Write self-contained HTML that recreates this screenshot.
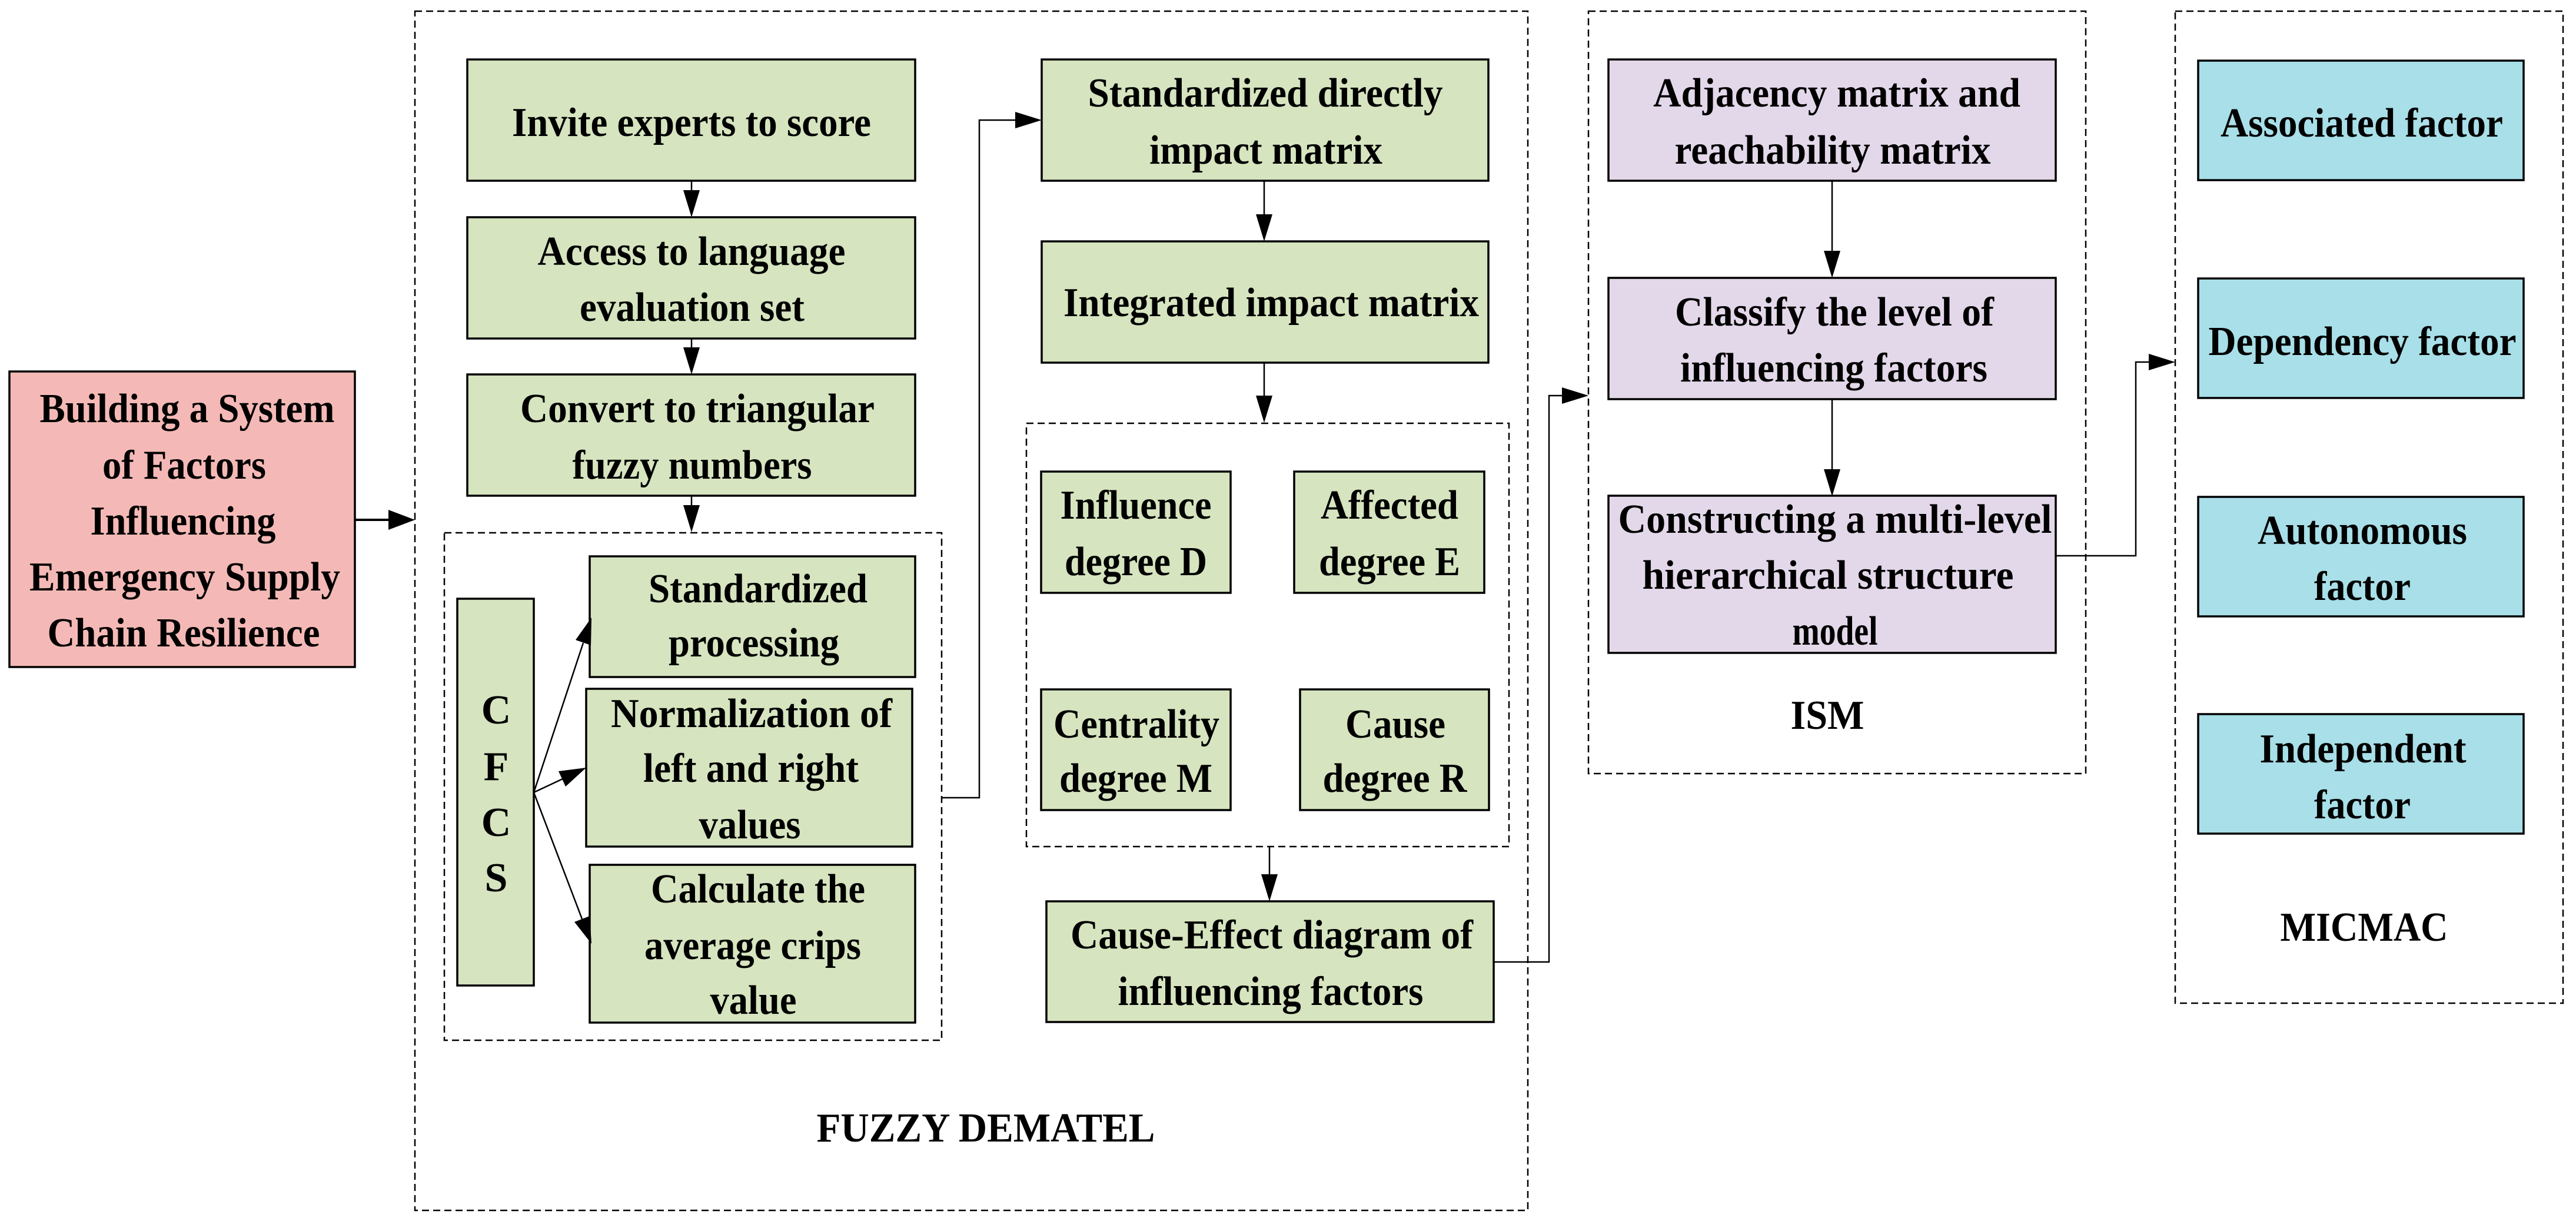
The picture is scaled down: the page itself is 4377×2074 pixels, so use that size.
<!DOCTYPE html>
<html><head><meta charset="utf-8"><style>
html,body{margin:0;padding:0;background:#fff;}
svg{display:block;}
text{font-family:"Liberation Serif",serif;font-weight:bold;font-size:70px;fill:#000;}
</style></head><body>
<svg width="4377" height="2074" viewBox="0 0 4377 2074" xmlns="http://www.w3.org/2000/svg">
<g fill="none" stroke="#000" stroke-width="2.5" stroke-dasharray="12,7">
<rect x="705" y="19" width="1891" height="2037"/>
<rect x="755" y="905" width="845" height="862"/>
<rect x="1744" y="719" width="820" height="719"/>
<rect x="2699" y="19" width="845" height="1295"/>
<rect x="3696" y="19" width="659" height="1685"/>
</g>
<g stroke="#000" stroke-width="3.5">
<rect x="16" y="631" width="587" height="502" fill="#f4b9b6"/>
<g fill="#d6e4bf">
<rect x="794" y="101" width="761" height="206"/>
<rect x="794" y="369" width="761" height="206"/>
<rect x="794" y="636" width="761" height="206"/>
<rect x="777" y="1017" width="130" height="657"/>
<rect x="1002" y="945" width="553" height="205"/>
<rect x="996" y="1170" width="554" height="268"/>
<rect x="1002" y="1469" width="553" height="268"/>
<rect x="1770" y="101" width="759" height="206"/>
<rect x="1770" y="410" width="759" height="206"/>
<rect x="1769" y="801" width="322" height="206"/>
<rect x="2199" y="801" width="323" height="206"/>
<rect x="1769" y="1171" width="322" height="205"/>
<rect x="2209" y="1171" width="321" height="205"/>
<rect x="1778" y="1531" width="760" height="205"/>
</g>
<g fill="#e3d8e9">
<rect x="2733" y="101" width="760" height="206"/>
<rect x="2733" y="472" width="760" height="206"/>
<rect x="2733" y="842" width="760" height="267"/>
</g>
<g fill="#a8dfe8">
<rect x="3735" y="103" width="553" height="203"/>
<rect x="3735" y="473" width="553" height="203"/>
<rect x="3735" y="844" width="553" height="203"/>
<rect x="3735" y="1213" width="553" height="203"/>
</g>
</g>
<g fill="none" stroke="#000" stroke-width="2.5">
<line x1="603" y1="883" x2="670" y2="883" stroke-width="4"/>
<line x1="1175" y1="307" x2="1175" y2="330"/>
<line x1="1175" y1="575" x2="1175" y2="600"/>
<line x1="1175" y1="842" x2="1175" y2="865"/>
<line x1="907" y1="1346" x2="991" y2="1092"/>
<line x1="907" y1="1346" x2="956" y2="1323"/>
<line x1="907" y1="1346" x2="989" y2="1561"/>
<polyline points="1600,1355 1664,1355 1664,204 1730,204"/>
<line x1="2148" y1="307" x2="2148" y2="370"/>
<line x1="2148" y1="616" x2="2148" y2="680"/>
<line x1="2157" y1="1438" x2="2157" y2="1490"/>
<polyline points="2538,1634 2632,1634 2632,672 2660,672"/>
<line x1="3113" y1="307" x2="3113" y2="430"/>
<line x1="3113" y1="678" x2="3113" y2="800"/>
<polyline points="3493,944 3629,944 3629,615 3660,615"/>
</g>
<g fill="#000">
<polygon points="660,866 660,900 705,883"/>
<polygon points="1161,323 1189,323 1175,369"/>
<polygon points="1161,590 1189,590 1175,636"/>
<polygon points="1161,858 1189,858 1175,904"/>
<polygon points="1004,1096 978,1087 1005,1049"/>
<polygon points="961,1336 949,1310 996,1304"/>
<polygon points="976,1566 1002,1556 1005,1603"/>
<polygon points="1725,190 1725,218 1770,204"/>
<polygon points="2134,364 2162,364 2148,410"/>
<polygon points="2134,672 2162,672 2148,718"/>
<polygon points="2143,1485 2171,1485 2157,1531"/>
<polygon points="2654,658 2654,686 2699,672"/>
<polygon points="3099,426 3127,426 3113,472"/>
<polygon points="3099,797 3127,797 3113,843"/>
<polygon points="3651,601 3651,629 3696,615"/>
</g>
<g text-anchor="middle" lengthAdjust="spacingAndGlyphs">
<text x="318" y="717" textLength="501" lengthAdjust="spacingAndGlyphs">Building a System</text>
<text x="313" y="813" textLength="278" lengthAdjust="spacingAndGlyphs">of Factors</text>
<text x="311" y="908" textLength="315" lengthAdjust="spacingAndGlyphs">Influencing</text>
<text x="314" y="1003" textLength="528" lengthAdjust="spacingAndGlyphs">Emergency Supply</text>
<text x="312" y="1098" textLength="463" lengthAdjust="spacingAndGlyphs">Chain Resilience</text>

<text x="1175" y="231" textLength="610" lengthAdjust="spacingAndGlyphs">Invite experts to score</text>
<text x="1175" y="450" textLength="523" lengthAdjust="spacingAndGlyphs">Access to language</text>
<text x="1176" y="545" textLength="382" lengthAdjust="spacingAndGlyphs">evaluation set</text>
<text x="1185" y="717" textLength="602" lengthAdjust="spacingAndGlyphs">Convert to triangular</text>
<text x="1176" y="813" textLength="407" lengthAdjust="spacingAndGlyphs">fuzzy numbers</text>

<text x="843" y="1229">C</text>
<text x="843" y="1325">F</text>
<text x="843" y="1420">C</text>
<text x="843" y="1514">S</text>

<text x="1288" y="1023" textLength="372" lengthAdjust="spacingAndGlyphs">Standardized</text>
<text x="1281" y="1115" textLength="290" lengthAdjust="spacingAndGlyphs">processing</text>
<text x="1277" y="1235" textLength="478" lengthAdjust="spacingAndGlyphs">Normalization of</text>
<text x="1276" y="1328" textLength="366" lengthAdjust="spacingAndGlyphs">left and right</text>
<text x="1274" y="1424" textLength="173" lengthAdjust="spacingAndGlyphs">values</text>
<text x="1288" y="1533" textLength="364" lengthAdjust="spacingAndGlyphs">Calculate the</text>
<text x="1279" y="1629" textLength="368" lengthAdjust="spacingAndGlyphs">average crips</text>
<text x="1280" y="1722" textLength="147" lengthAdjust="spacingAndGlyphs">value</text>

<text x="2150" y="181" textLength="603" lengthAdjust="spacingAndGlyphs">Standardized directly</text>
<text x="2151" y="278" textLength="396" lengthAdjust="spacingAndGlyphs">impact matrix</text>
<text x="2160" y="537" textLength="706" lengthAdjust="spacingAndGlyphs">Integrated impact matrix</text>

<text x="1930" y="881" textLength="257" lengthAdjust="spacingAndGlyphs">Influence</text>
<text x="1930" y="977" textLength="242" lengthAdjust="spacingAndGlyphs">degree D</text>
<text x="2361" y="881" textLength="234" lengthAdjust="spacingAndGlyphs">Affected</text>
<text x="2361" y="977" textLength="240" lengthAdjust="spacingAndGlyphs">degree E</text>
<text x="1931" y="1253" textLength="282" lengthAdjust="spacingAndGlyphs">Centrality</text>
<text x="1930" y="1345" textLength="260" lengthAdjust="spacingAndGlyphs">degree M</text>
<text x="2371" y="1253" textLength="170" lengthAdjust="spacingAndGlyphs">Cause</text>
<text x="2370" y="1345" textLength="245" lengthAdjust="spacingAndGlyphs">degree R</text>
<text x="2161" y="1611" textLength="684" lengthAdjust="spacingAndGlyphs">Cause-Effect diagram of</text>
<text x="2159" y="1707" textLength="519" lengthAdjust="spacingAndGlyphs">influencing factors</text>

<text x="1675" y="1939" textLength="575" lengthAdjust="spacingAndGlyphs">FUZZY DEMATEL</text>

<text x="3121" y="181" textLength="624" lengthAdjust="spacingAndGlyphs">Adjacency matrix and</text>
<text x="3114" y="278" textLength="537" lengthAdjust="spacingAndGlyphs">reachability matrix</text>
<text x="3117" y="553" textLength="542" lengthAdjust="spacingAndGlyphs">Classify the level of</text>
<text x="3116" y="648" textLength="522" lengthAdjust="spacingAndGlyphs">influencing factors</text>
<text x="3118" y="905" textLength="737" lengthAdjust="spacingAndGlyphs">Constructing a multi-level</text>
<text x="3106" y="1000" textLength="631" lengthAdjust="spacingAndGlyphs">hierarchical structure</text>
<text x="3118" y="1095" textLength="145" lengthAdjust="spacingAndGlyphs">model</text>
<text x="3105" y="1238" textLength="125" lengthAdjust="spacingAndGlyphs">ISM</text>

<text x="4013" y="232" textLength="480" lengthAdjust="spacingAndGlyphs">Associated factor</text>
<text x="4014" y="603" textLength="523" lengthAdjust="spacingAndGlyphs">Dependency factor</text>
<text x="4014" y="924" textLength="356" lengthAdjust="spacingAndGlyphs">Autonomous</text>
<text x="4014" y="1019" textLength="164" lengthAdjust="spacingAndGlyphs">factor</text>
<text x="4015" y="1295" textLength="351" lengthAdjust="spacingAndGlyphs">Independent</text>
<text x="4014" y="1390" textLength="164" lengthAdjust="spacingAndGlyphs">factor</text>
<text x="4017" y="1598" textLength="285" lengthAdjust="spacingAndGlyphs">MICMAC</text>
</g>
</svg>
</body></html>
